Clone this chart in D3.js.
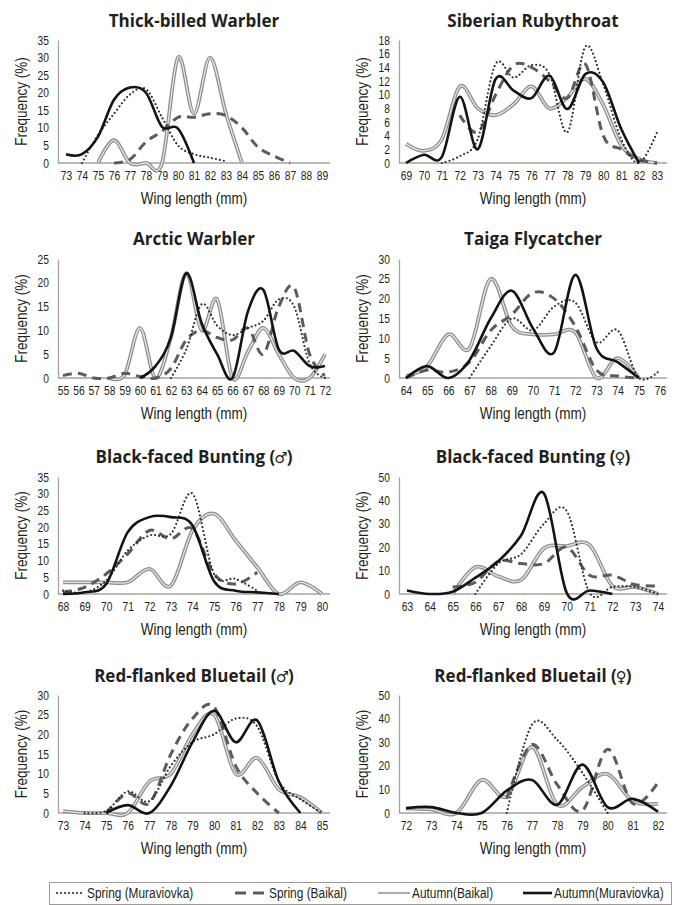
<!DOCTYPE html>
<html>
<head>
<meta charset="utf-8">
<script src="https://cdnjs.cloudflare.com/ajax/libs/d3/7.8.5/d3.min.js"></script>
<style>
  body { margin: 0; background: #fff; }
  text { fill: #231f20; }
  .narrow { font-family: "Liberation Sans", Arial, sans-serif; }
  .ttl { font-family: "Open Sans", "Noto Sans", sans-serif; font-weight: 700; font-size: 17px; }
  .sym { font-family: "DejaVu Sans", sans-serif; font-weight: 400; font-size: 15px; }
</style>
</head>
<body>
<div id="chart"></div>
<script>
// wing length classes (mm) and frequency (%) per season/site

// Thick-billed Warbler
var tbwWing      = [73,74,75,76,77,78,79,80,81,82,83,84,85,86,87,88,89];
var tbwSpringMur = [null,0,8,14,19.5,21,13,5,2.5,1.5,0.5,null,null,null,null,null,null];
var tbwSpringBai = [null,null,null,0,1,6,9,13,13,14,13.5,10,4.5,2,0,null,null];
var tbwAutumnBai = [null,null,0,6.5,0,0,0,30,14,30,14,0,null,null,null,null,null];
var tbwAutumnMur = [2.5,2.5,7.5,18,21.5,20,10.3,9.8,0,null,null,null,null,null,null,null,null];

// Siberian Rubythroat
var srWing      = [69,70,71,72,73,74,75,76,77,78,79,80,81,82,83];
var srSpringMur = [null,null,0,1,3.5,14.5,12.5,14.3,13,4.5,17,11.5,3.5,0,4.5];
var srSpringBai = [null,null,null,7,4.5,10,14.3,14,12,9.5,14.5,4,2,0.5,0];
var srAutumnBai = [2.8,1.8,3.5,11.2,8,7,8.6,11.2,8,9.6,12.3,8.5,2.6,0.6,0];
var srAutumnMur = [0,1.2,0.9,9.7,2,12.3,10.6,9.5,12.8,7.9,13,11.8,5,0,null];

// Arctic Warbler
var awWing      = [55,56,57,58,59,60,61,62,63,64,65,66,67,68,69,70,71,72];
var awSpringMur = [null,null,null,null,null,null,null,0,6,15.5,11,9,10.5,12,16.5,15,3,0];
var awSpringBai = [0.5,1,0,0,1,0.3,0,2,8,10,8.5,8,10.5,5,15,19,5,0.5];
var awAutumnBai = [null,null,null,0,0.7,10.5,0,8.5,22,10,16.5,0,5.5,10.5,5,0,0,5];
var awAutumnMur = [null,null,null,null,null,0,2.5,8.5,22,11.5,5,0,14,18.5,6,5.7,2.5,2.5];

// Taiga Flycatcher
var tfWing      = [64,65,66,67,68,69,70,71,72,73,74,75,76];
var tfSpringMur = [null,null,null,0,8,15,12,18,19,9,12,0,2];
var tfSpringBai = [0,2,1.5,4,12,16,21.5,20,13,2,0.5,0,null];
var tfAutumnBai = [0.5,3,11,7.5,25,13,11,11,11.5,0,5,0,null];
var tfAutumnMur = [0,3,0,4.5,15,22,12.5,6.5,26,7.5,4,0,null];

// Black-faced Bunting, males
var bfmWing      = [68,69,70,71,72,73,74,75,76,77,78,79,80];
var bfmSpringMur = [1,0.5,4,13,17.5,18,30,6,4.5,1,null,null,null];
var bfmSpringBai = [0.5,2,6,12,19,16.5,19.5,6,3,6.5,null,null,null];
var bfmAutumnBai = [3.5,3.5,3.5,3.5,7.5,2.5,19,24,16,8,0,3.5,0];
var bfmAutumnMur = [0,0.5,3,18.5,23,23,20.5,3.8,1,0.5,0,null,null];

// Black-faced Bunting, females
var bffWing      = [63,64,65,66,67,68,69,70,71,72,73,74];
var bffSpringMur = [null,null,null,0,13,17,30,35.5,0.5,3,3,0];
var bffSpringBai = [null,null,3,5,14,13,13,20,8,8,4,3.5];
var bffAutumnBai = [null,null,0,11.5,7.5,6,19.5,20.5,21,3.5,3,0];
var bffAutumnMur = [1.5,0,1,7,14,25,43,0.5,1.5,0,null,null];

// Red-flanked Bluetail, males
var rfmWing      = [73,74,75,76,77,78,79,80,81,82,83,84,85];
var rfmSpringMur = [null,0,0.5,5.5,3,12,18,20,24,22,8,3.5,0];
var rfmSpringBai = [null,null,0,5,2.5,15,24,27,12,5,0,null,null];
var rfmAutumnBai = [0.5,0,0,0,8,10,20,25,10,14,6,4,0];
var rfmAutumnMur = [null,null,0,2,0,7,18,26,18,23.5,8,0,null];

// Red-flanked Bluetail, females
var rffWing      = [72,73,74,75,76,77,78,79,80,81,82];
var rffSpringMur = [null,null,null,null,0,37.5,31,17,0,null,null];
var rffSpringBai = [null,null,null,null,6,29,12,1,27,4,13];
var rffAutumnBai = [2,1.5,0,14,7,28,3.5,11,16.5,5,4];
var rffAutumnMur = [2,2.5,0,0,9.5,14,3.5,20.5,2.5,6,0.5];

var titles  = ["Thick-billed Warbler", "Siberian Rubythroat", "Arctic Warbler", "Taiga Flycatcher",
               "Black-faced Bunting", "Black-faced Bunting", "Red-flanked Bluetail", "Red-flanked Bluetail"];
var sexSigns = [null, null, null, null, "\u2642", "\u2640", "\u2642", "\u2640"];
var yMaxes = [35, 18, 25, 30, 35, 50, 30, 50];
var ySteps = [5, 2, 5, 5, 5, 10, 5, 10];
var seriesNames = ["Spring (Muraviovka)", "Spring (Baikal)", "Autumn(Baikal)", "Autumn(Muraviovka)"];

var panels = [
  [tbwWing, tbwSpringMur, tbwSpringBai, tbwAutumnBai, tbwAutumnMur],
  [srWing, srSpringMur, srSpringBai, srAutumnBai, srAutumnMur],
  [awWing, awSpringMur, awSpringBai, awAutumnBai, awAutumnMur],
  [tfWing, tfSpringMur, tfSpringBai, tfAutumnBai, tfAutumnMur],
  [bfmWing, bfmSpringMur, bfmSpringBai, bfmAutumnBai, bfmAutumnMur],
  [bffWing, bffSpringMur, bffSpringBai, bffAutumnBai, bffAutumnMur],
  [rfmWing, rfmSpringMur, rfmSpringBai, rfmAutumnBai, rfmAutumnMur],
  [rffWing, rffSpringMur, rffSpringBai, rffAutumnBai, rffAutumnMur]
];

// layout (pixels)
var rowZero = [163, 378, 594, 813];
var rowTop  = [40, 259, 477, 695];
var titleY  = [27, 245, 463, 682];
var cols = [{axisX: 58, end: 330}, {axisX: 399, end: 667}];
var labelSpan = [[66,322],[406,657],[63,325],[406,660],[63,322],[407,658],[63,322],[406,658]];
var axisColor = "#a3a3a3";
var squeeze = 0.82;   // no condensed face installed, so squeeze the sans text

// one entry per series: spring muraviovka, spring baikal, autumn baikal, autumn muraviovka
var styles = [
  [{stroke: "#2e2e2e", width: 2.2, dash: "0,4", cap: "round"}],
  [{stroke: "#5c5c5c", width: 3, dash: "9,6", cap: "butt"}],
  [{stroke: "#8e8e8e", width: 3.8}, {stroke: "#e4e4e4", width: 1.3}],
  [{stroke: "#141414", width: 2.6}]
];
var drawOrder = [2, 1, 0, 3];

var svg = d3.select("#chart").append("svg")
    .attr("width", 675)
    .attr("height", 905);
svg.append("rect").attr("width", 675).attr("height", 905).attr("fill", "#fff");

panels.forEach(function(p, i) {
    var col = cols[i % 2], row = Math.floor(i / 2);
    var wing = p[0];
    var zero = rowZero[row];

    var x = d3.scalePoint().domain(wing).range(labelSpan[i]);
    var y = d3.scaleLinear().domain([0, yMaxes[i]]).range([zero, rowTop[row]]);

    var g = svg.append("g");

    // y axis
    var ya = g.append("g")
        .attr("transform", "translate(" + col.axisX + ",0)")
        .call(d3.axisLeft(y)
            .tickValues(d3.range(0, yMaxes[i] + 0.001, ySteps[i]))
            .tickSize(0).tickPadding(9));
    ya.attr("font-family", null).attr("font-size", null);
    ya.select(".domain").attr("stroke", axisColor).attr("stroke-width", 1.3);
    ya.selectAll("text").attr("class", "narrow").attr("font-size", 12.5).attr("fill", "#231f20");

    // x axis
    var xa = g.append("g")
        .attr("transform", "translate(0," + zero + ")")
        .call(d3.axisBottom(x).tickSize(0).tickPadding(8.5));
    xa.attr("font-family", null).attr("font-size", null);
    xa.select(".domain").remove();
    xa.selectAll("text").attr("class", "narrow").attr("font-size", 12.5).attr("fill", "#231f20");
    g.append("line")
        .attr("x1", col.axisX).attr("x2", col.end)
        .attr("y1", zero).attr("y2", zero)
        .attr("stroke", axisColor).attr("stroke-width", 1.3);

    // titles
    var tt = g.append("text")
        .attr("class", "ttl")
        .attr("x", (col.axisX + col.end) / 2)
        .attr("y", titleY[row])
        .attr("text-anchor", "middle")
        .text(titles[i]);
    if (sexSigns[i]) {
        tt.append("tspan").text(" (");
        tt.append("tspan").attr("class", "sym").attr("dx", -1).text(sexSigns[i]);
        tt.append("tspan").attr("dx", -1).text(")");
    }
    g.append("text")
        .attr("class", "narrow")
        .attr("x", (col.axisX + col.end) / 2)
        .attr("y", zero + 41.5)
        .attr("text-anchor", "middle")
        .attr("font-size", 16.5)
        .text("Wing length (mm)");
    g.append("text")
        .attr("class", "narrow")
        .attr("transform", "translate(" + (col.axisX - 31.5) + "," + ((zero + rowTop[row]) / 2) + ") rotate(-90)")
        .attr("text-anchor", "middle")
        .attr("font-size", 16.5)
        .text("Frequency (%)");

    var line = d3.line()
        .defined(function(d) { return d[1] != null; })
        .x(function(d) { return x(d[0]); })
        .y(function(d) { return y(d[1]); })
        .curve(d3.curveCardinal);

    drawOrder.forEach(function(s) {
        var pts = wing.map(function(w, k) { return [w, p[s + 1][k]]; });
        styles[s].forEach(function(st) {
            g.append("path")
                .datum(pts)
                .attr("d", line)
                .attr("fill", "none")
                .attr("stroke", st.stroke)
                .attr("stroke-width", st.width)
                .attr("stroke-dasharray", st.dash || null)
                .attr("stroke-linecap", st.cap || "butt")
                .attr("stroke-linejoin", "round");
        });
    });
});

// legend
var lg = svg.append("g");
lg.append("rect")
    .attr("x", 49.5).attr("y", 882.5).attr("width", 622).attr("height", 22)
    .attr("fill", "none").attr("stroke", "#9a9a9a").attr("stroke-width", 1);
var legendX = [[57, 85], [235, 267], [378, 410], [523, 552]];
seriesNames.forEach(function(name, s) {
    var lx = legendX[s];
    styles[s].forEach(function(o) {
        lg.append("line")
            .attr("x1", lx[0]).attr("x2", lx[1])
            .attr("y1", 893).attr("y2", 893)
            .attr("stroke", o.stroke)
            .attr("stroke-width", s == 2 ? o.width * 0.55 : o.width)
            .attr("stroke-dasharray", s == 1 ? "11,7" : (o.dash || null))
            .attr("stroke-linecap", o.cap || "butt");
    });
    lg.append("text")
        .attr("class", "narrow")
        .attr("x", lx[1] + 2)
        .attr("y", 898)
        .attr("font-size", 14.5)
        .text(name);
});

// condense the plain sans text horizontally to mimic the narrow face of the original
svg.selectAll("text.narrow").each(function() {
    var t = d3.select(this);
    var x0 = +t.attr("x") || 0;
    t.attr("x", x0 / squeeze)
     .attr("transform", (t.attr("transform") || "") + " scale(" + squeeze + ",1)");
});
</script>
</body>
</html>
